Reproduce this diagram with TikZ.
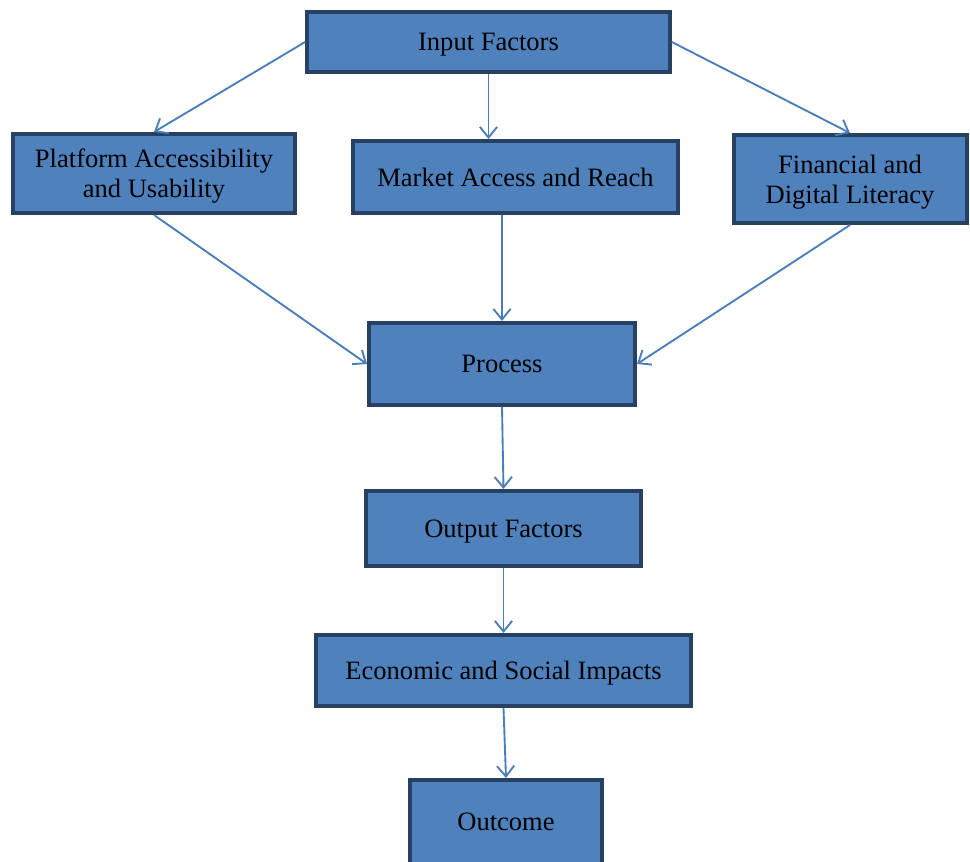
\documentclass[tikz,border=0pt]{standalone}
\usepackage{fontspec}
\setmainfont{Liberation Serif}
\usepackage{tikz}
\usetikzlibrary{arrows.meta,positioning,calc}
\definecolor{boxblue}{RGB}{79,129,189}
\definecolor{boxnavy}{RGB}{40,64,98}
\definecolor{linkblue}{RGB}{74,126,187}
\tikzset{
  factorbox/.style={draw=boxnavy, line width=3pt, fill=boxblue, align=center,
    font=\fontsize{19.9}{22.5}\selectfont, inner sep=2pt, text depth=0pt},
  flow/.style={-{Straight Barb[length=8pt,width=13pt]}, draw=linkblue, line width=1.4pt}
}

\begin{document}
\begin{tikzpicture}[x=0.75pt, y=-0.75pt]
\useasboundingbox (0,0) rectangle (970,862);
\node[factorbox, minimum width=272pt, minimum height=45pt] (inp) at (488.5,42) {Input Factors};
\node[factorbox, minimum width=211.5pt, minimum height=59.25pt] (plat) at (154,173.5) {Platform Accessibility\\and Usability};
\node[factorbox, minimum width=243.75pt, minimum height=54pt] (mkt) at (515.5,177) {Market Access and Reach};
\node[factorbox, minimum width=174.75pt, minimum height=66pt] (fin) at (850,179) {Financial and\\Digital Literacy};
\node[factorbox, minimum width=199.5pt, minimum height=61.5pt] (proc) at (502,364) {Process};
\node[factorbox, minimum width=206.25pt, minimum height=56.25pt] (outp) at (503.5,528.5) {Output Factors};
\node[factorbox, minimum width=281.25pt, minimum height=53.25pt] (econ) at (503.5,670.5) {Economic and Social Impacts};
\node[factorbox, minimum width=144pt, minimum height=63pt] (outc) at (506,822) {Outcome};

\draw[flow] (inp.west) -- (plat.north);
\draw[flow] (inp.south) -- (inp.south |- mkt.north);
\draw[flow] (inp.east) -- (fin.north);
\draw[flow] (plat.south) -- (proc.west);
\draw[flow] (proc.north |- mkt.south) -- (proc.north);
\draw[flow] (fin.south) -- (proc.east);
\draw[flow] (proc.south) -- (outp.north);
\draw[flow] (outp.south) -- (econ.north);
\draw[flow] (econ.south) -- (outc.north);
\end{tikzpicture}
\end{document}
